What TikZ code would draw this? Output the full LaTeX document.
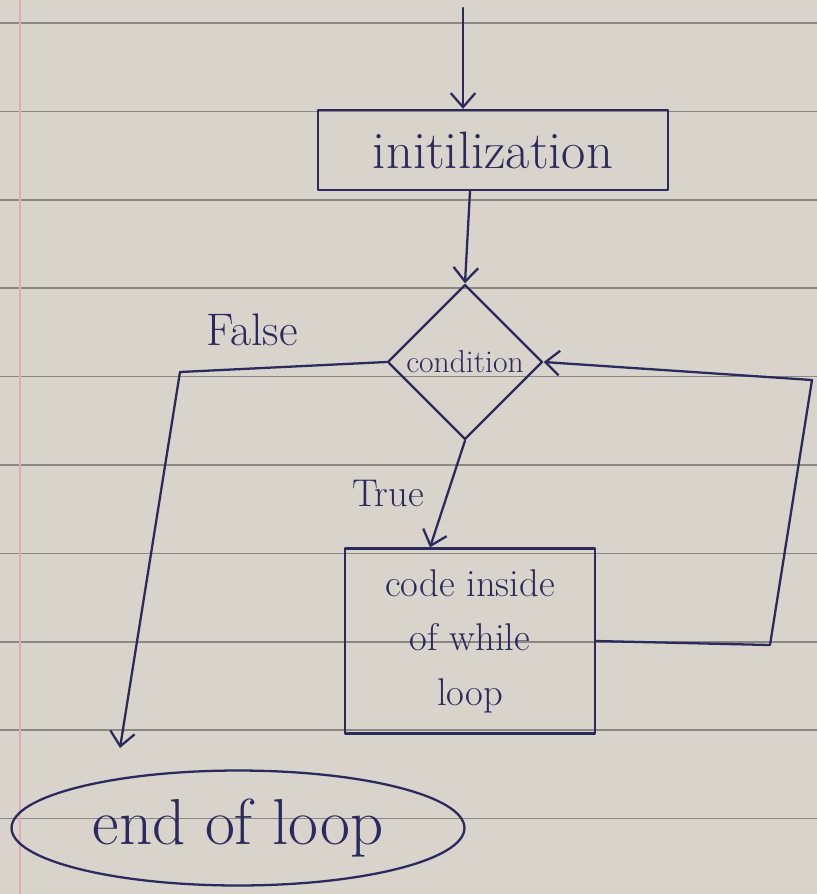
\documentclass[tikz,border=0pt]{standalone}
\usetikzlibrary{shapes.geometric,arrows.meta,calc}
\definecolor{paper}{HTML}{D8D3CB}
\definecolor{ink}{HTML}{2B2A5E}
\definecolor{penline}{HTML}{8C8882}
\definecolor{marginline}{HTML}{E2AAB2}
\begin{document}
\begin{tikzpicture}[x=0.02cm,y=-0.02cm,
  inkline/.style={draw=ink,line width=1.3pt,line join=round,line cap=round},
  flow/.style={inkline,-{Straight Barb[length=8pt,width=14pt,line width=1.3pt]}},
  procbox/.style={inkline,rectangle,text=ink,inner sep=0pt},
  decide/.style={inkline,diamond,text=ink,inner sep=0pt,minimum width=3.1cm,minimum height=3.1cm},
  terminal/.style={inkline,ellipse,text=ink,inner sep=0pt,minimum width=9.06cm,minimum height=2.3cm},
  lbl/.style={text=ink,inner sep=0pt}]
\useasboundingbox (0,0) rectangle (817,894);
\fill[paper] (0,0) rectangle (817,894);
\foreach \k in {0,...,9} {\draw[penline,line width=0.9pt] (0,23+88.4*\k) -- (817,23+88.4*\k);}
\draw[marginline,line width=1.4pt] (20,0) -- (20,894);

\node[procbox,minimum width=7cm,minimum height=1.6cm,font=\fontsize{30}{34}\selectfont] (init) at (493,150) {initilization};
\node[decide,font=\fontsize{18}{20}\selectfont] (cond) at (465,362) {condition};
\node[procbox,minimum width=5cm,minimum height=3.7cm,align=center,font=\fontsize{22}{31}\selectfont] (code) at (470,641) {code inside\\of while\\loop};
\node[terminal,font=\fontsize{37}{40}\selectfont] (end) at (238,828) {end of loop};

\node[lbl,font=\fontsize{26}{30}\selectfont] (false) at (252,330) {False};
\node[lbl,font=\fontsize{22}{26}\selectfont] (true) at (388,494) {True};

\coordinate (start) at (463,8);
\coordinate (fc) at (180,372);
\coordinate (fe) at (120,748);
\coordinate (r1) at (770,645);
\coordinate (r2) at (812,380);

\draw[flow] (start) -- (init.north -| start);
\draw[flow] ($(init.south)+(-23,0)$) -- (cond.north);
\draw[flow] (cond.west) -- (fc) -- (fe);
\draw[flow] (cond.south) -- ($(code.north)+(-40,0)$);
\draw[flow] (code.east) -- (r1) -- (r2) -- (cond.east);
\end{tikzpicture}
\end{document}
